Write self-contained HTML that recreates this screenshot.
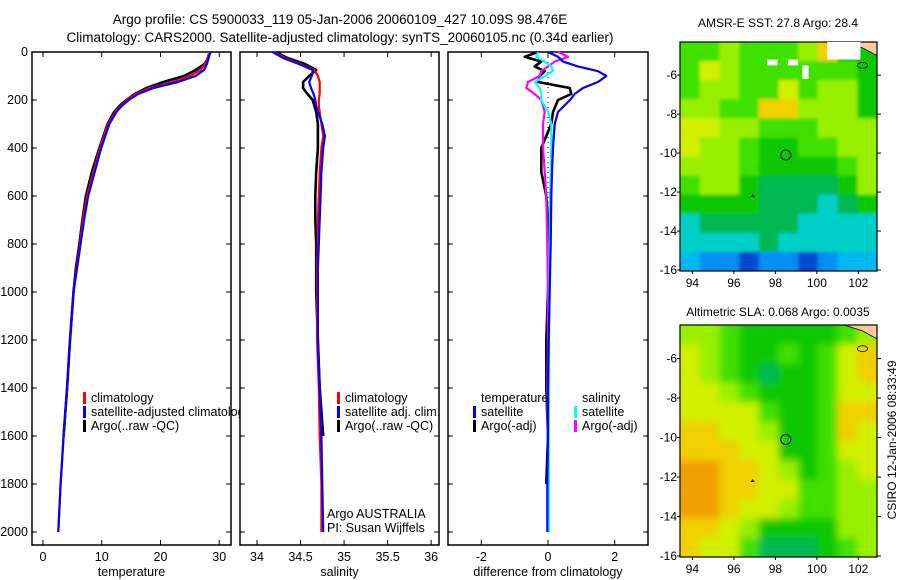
<!DOCTYPE html>
<html><head><meta charset="utf-8">
<style>
body{margin:0;background:#fff;}
svg{display:block;font-family:"Liberation Sans",sans-serif;}
</style></head>
<body>
<svg id="chart" width="900" height="580" viewBox="0 0 900 580">
<defs>
<filter id="blur" x="0" y="0" width="1" height="1"><feGaussianBlur stdDeviation="4"/></filter>
<filter id="blur1" x="0" y="0" width="1" height="1"><feGaussianBlur stdDeviation="1.5"/></filter>
<clipPath id="clip-map2"><rect x="680" y="325" width="197" height="232"/></clipPath>
<clipPath id="clip-map1"><rect x="680" y="42" width="197" height="229"/></clipPath>
<clipPath id="clip-p1"><rect x="32" y="52" width="208" height="493"/></clipPath>
</defs>
<text x="340" y="24" font-size="13.5" text-anchor="middle">Argo profile: CS 5900033_119 05-Jan-2006 20060109_427 10.09S 98.476E</text>
<text x="340" y="42" font-size="13.5" text-anchor="middle">Climatology: CARS2000. Satellite-adjusted climatology: synTS_20060105.nc (0.34d earlier)</text>
<text x="778" y="27" font-size="12" text-anchor="middle">AMSR-E SST: 27.8 Argo: 28.4</text>
<text x="778" y="316" font-size="12" text-anchor="middle">Altimetric SLA: 0.068 Argo: 0.0035</text>
<text x="0" y="0" font-size="12" text-anchor="middle" transform="translate(896,440) rotate(-90)">CSIRO 12-Jan-2006 08:33:49</text>
<g id="plots"></g>
</svg>
<script>
// ---- profile data ----
const depths = [0,25,50,75,100,125,150,175,200,225,250,300,350,400,500,600,700,800,900,1000,1200,1400,1600,1800,2000];
const tempClim = [28.3,28.0,27.6,26.8,25.0,22.0,18.2,15.8,14.3,13.2,12.3,11.1,10.4,9.7,8.6,7.5,6.8,6.3,5.7,5.2,4.6,4.1,3.5,3.0,2.6];
const tempSat = [28.5,28.2,27.9,27.4,26.0,23.0,18.8,16.2,14.6,13.4,12.5,11.3,10.6,9.9,8.8,7.7,7.0,6.4,5.8,5.2,4.6,4.1,3.5,3.0,2.6];
const tempArgo = [28.5,28.1,27.5,26.0,24.0,20.5,17.6,15.6,14.2,13.0,12.1,11.0,10.3,9.6,8.3,7.3,6.7,6.2,5.6,5.2,4.6,4.1,3.5];
const salClim = [34.20,34.32,34.50,34.66,34.70,34.72,34.72,34.72,34.71,34.71,34.72,34.74,34.76,34.74,34.72,34.71,34.70,34.70,34.69,34.69,34.69,34.71,34.72,34.74,34.74];
const salSat = [34.18,34.30,34.48,34.64,34.63,34.60,34.62,34.65,34.67,34.68,34.70,34.75,34.78,34.76,34.74,34.73,34.72,34.71,34.70,34.70,34.70,34.72,34.74,34.75,34.76];
const salArgo = [34.22,34.35,34.55,34.68,34.60,34.53,34.53,34.58,34.64,34.66,34.68,34.70,34.70,34.70,34.68,34.67,34.67,34.68,34.68,34.68,34.70,34.72,34.76];
const diffDepths = [0,20,40,60,80,100,125,150,175,200,250,300,400,500,600,800,1000,1200,1400,1600,1800,2000];
const dTempSat = [0.0,0.3,0.45,0.9,1.5,1.75,1.5,1.05,0.8,0.66,0.3,0.2,0.15,0.12,0.1,0.08,0.05,0.02,0.0,0.0,-0.02,-0.02];
const dTempArgo = [-0.3,-0.7,-0.2,-0.4,-0.1,-0.25,-0.3,0.65,0.7,0.3,0.15,0.1,-0.2,-0.2,-0.05,0.05,0.0,-0.05,-0.05,0.0,-0.05];
const dSalSat = [-0.3,-0.35,-0.1,0.1,0.15,-0.1,-0.4,-0.25,-0.2,-0.2,0.0,0.1,0.1,0.08,0.06,0.05,0.04,0.03,0.03,0.02,0.02,0.02];
const dSalArgo = [0.3,0.6,0.2,0.0,-0.2,-0.25,-0.6,-0.65,-0.4,-0.2,-0.1,-0.15,-0.15,-0.1,-0.05,-0.02,0.0,0.0,-0.02,-0.01,0.0];
const depthTicks = [0,200,400,600,800,1000,1200,1400,1600,1800,2000];
const tempTicks = [0,10,20,30];
const salTicks = [34,34.5,35,35.5,36];
const diffTicks = [-2,0,2];
// ---- map data (rows top->bottom, cols west->east), colour levels 0..10 ----
const sstGrid = [
[6,6,7,6,6,6,7,9,5,5],[6,8,7,6,6,6,6,6,6,5],[6,7,7,6,6,8,6,7,7,5],[7,7,6,6,9,9,7,7,7,5],
[8,8,7,7,6,6,6,7,7,7],[8,7,7,6,5,5,6,6,7,7],[7,7,7,6,5,5,5,5,6,7],[6,7,7,5,4,4,4,4,5,7],
[5,5,5,5,4,4,4,3,4,5],[3,4,4,4,4,4,3,3,3,3],[3,3,3,3,4,3,3,3,3,3],[2,1,1,0,1,1,0,1,2,2]];
const slaGrid = [
[7,7,6,5,5,5,5,5,6,7],[8,7,6,5,5,6,5,6,8,9],[8,7,6,5,4,5,5,6,8,9],[8,8,7,6,5,5,5,6,8,8],
[8,8,8,8,6,5,5,6,9,9],[9,9,8,8,7,5,5,6,9,8],[9,9,9,8,8,5,5,6,8,8],[10,10,9,9,8,7,5,6,7,8],
[10,10,9,9,8,8,6,6,7,7],[10,10,9,8,8,7,6,6,7,7],[9,9,8,7,5,5,5,5,7,7],[9,8,8,6,4,4,4,5,6,7]];
const latTicks = [-6,-8,-10,-12,-14,-16];
const lonTicks = [94,96,98,100,102];
const floatPos = [98.5,-10.1];

const NS="http://www.w3.org/2000/svg";
const root=document.getElementById('plots');
function mk(tag,attrs,parent){const e=document.createElementNS(NS,tag);for(const k in attrs)e.setAttribute(k,attrs[k]);(parent||root).appendChild(e);return e;}
const palette=['#0048d0','#0090f0','#00b8f0','#00d0c8','#00b850','#10c800','#40e000','#98f000','#d0f000','#f0d000','#f0a000'];

const Y0=52, YS=0.24, PB=545;
function yD(d){return Y0+d*YS;}

function panel(name,x0,x1,vmin,vmax,ticks,label,showDepth){
  const g=mk('g',{});
  
  
  const xs=v=>x0+(v-vmin)/(vmax-vmin)*(x1-x0);
  const fr=mk('rect',{x:x0,y:Y0,width:x1-x0,height:PB-Y0,fill:'none',stroke:'#000','stroke-width':1.5},g);
  
  
  ticks.forEach(t=>{
    const x=xs(t);
    mk('line',{x1:x,x2:x,y1:PB,y2:PB-5,stroke:'#000'},g);
    mk('line',{x1:x,x2:x,y1:Y0,y2:Y0+5,stroke:'#000'},g);
    const tx=mk('text',{x:x,y:PB+16,'font-size':12.5,'text-anchor':'middle'},g);
    tx.textContent=t;
    
    
  });
  depthTicks.forEach(d=>{
    const y=yD(d);
    mk('line',{x1:x0,x2:x0+5,y1:y,y2:y,stroke:'#000'},g);
    mk('line',{x1:x1,x2:x1-5,y1:y,y2:y,stroke:'#000'},g);
    if(showDepth){
      const tx=mk('text',{x:x0-4,y:y+4,'font-size':12.5,'text-anchor':'end'},g);
      tx.textContent=d;
      
      
    }
  });
  const lb=mk('text',{x:(x0+x1)/2,y:PB+31,'font-size':12.5,'text-anchor':'middle'},g);
  lb.textContent=label;
  
  
  return {g,xs};
}
function line(g,xs,vals,ds,color,name,w){
  const pts=vals.map((v,i)=>xs(v).toFixed(1)+','+yD(ds[i]).toFixed(1)).join(' ');
  const p=mk('polyline',{points:pts,fill:'none',stroke:color,'stroke-width':w||2.2,'stroke-linejoin':'round'},g);
  
  
}
function legend(g,x,y,items){
  items.forEach((it,i)=>{
    const yy=y+i*14;
    if(it[1]) mk('rect',{x:x,y:yy-10,width:3,height:12,fill:it[1]},g);
    const t=mk('text',{x:x+(it[1]?8:0),y:yy,'font-size':12.5},g);
    t.textContent=it[0];
    
    
  });
}

// temperature
const p1=panel('temperature-panel',32,231,-1.87,32.0,tempTicks,'temperature',true);
line(p1.g,p1.xs,tempArgo,depths,'#000','temp-argo-line',2.6);
line(p1.g,p1.xs,tempClim,depths,'#f00','temp-climatology-line');
line(p1.g,p1.xs,tempSat,depths,'#00f','temp-satellite-line');
const lg1=mk('g',{'clip-path':'url(#clip-p1)'},p1.g);
legend(lg1,83,402,[['climatology','#f00'],['satellite-adjusted climatology','#00f'],['Argo(..raw -QC)','#000']]);

// salinity
const p2=panel('salinity-panel',240,439,33.805,36.09,salTicks,'salinity',false);
line(p2.g,p2.xs,salArgo,depths,'#000','sal-argo-line',2.6);
line(p2.g,p2.xs,salClim,depths,'#f00','sal-climatology-line');
line(p2.g,p2.xs,salSat,depths,'#00f','sal-satellite-line');
legend(p2.g,337,402,[['climatology','#f00'],['satellite adj. clim.','#00f'],['Argo(..raw -QC)','#000']]);
const a1=mk('text',{x:327,y:518,'font-size':12.5},p2.g);a1.textContent='Argo AUSTRALIA';


const a2=mk('text',{x:327,y:532,'font-size':12.5},p2.g);a2.textContent='PI: Susan Wijffels';



// difference
const p3=panel('difference-panel',448,648,-3,3,diffTicks,'difference from climatology',false);
mk('line',{x1:p3.xs(0),x2:p3.xs(0),y1:Y0,y2:yD(2000),stroke:'#000','stroke-dasharray':'1,4'},p3.g);
line(p3.g,p3.xs,dTempArgo,diffDepths,'#000','diff-temp-argo-line',2.6);
line(p3.g,p3.xs,dSalArgo,diffDepths,'#f0f','diff-sal-argo-line');
line(p3.g,p3.xs,dSalSat,diffDepths,'#0ff','diff-sal-satellite-line');
line(p3.g,p3.xs,dTempSat,diffDepths,'#00f','diff-temp-satellite-line');
legend(p3.g,481,402,[['temperature',null]]);
legend(p3.g,473,416,[['satellite','#00f'],['Argo(-adj)','#000']]);
legend(p3.g,582,402,[['salinity',null]]);
legend(p3.g,574,416,[['satellite','#0ff'],['Argo(-adj)','#f0f']]);

// maps
function mapPanel(name,grid,top,bottom,filterId,clipId){
  const L=680,R=877,lon0=93.4,lon1=102.9,lat0=-4.3,lat1=-16.05;
  const g=mk('g',{});
  
  
  const xs=lon=>L+(lon-lon0)/(lon1-lon0)*(R-L);
  const ys=lat=>top+(lat-lat0)/(lat1-lat0)*(bottom-top);
  const wrap=mk('g',{'clip-path':'url(#'+clipId+')'},g);
  const cells=mk('g',{filter:'url(#'+filterId+')'},wrap);
  const nr=grid.length,nc=grid[0].length,cw=(R-L)/nc,ch=(bottom-top)/nr;
  const pad=12;
  grid.forEach((row,r)=>row.forEach((v,c)=>{
    const x=L+c*cw-(c==0?pad:0), y=top+r*ch-(r==0?pad:0);
    const w=cw+0.6+(c==0||c==nc-1?pad:0), h=ch+0.6+(r==0||r==nr-1?pad:0);
    const cell=mk('rect',{x:x,y:y,width:w,height:h,fill:palette[v]},cells);
    
    
  }));
  const land=mk('polygon',{points:`${xs(101.3)},${top} ${xs(102.9)},${top} ${xs(102.9)},${ys(-5.0)} ${xs(102.2)},${ys(-4.6)}`,fill:'#ffc8a0',stroke:'#000','stroke-width':0.8},g);
  
  
  mk('ellipse',{cx:xs(102.2),cy:ys(-5.5),rx:5,ry:3,fill:'none',stroke:'#000','stroke-width':0.8},g);
  const c=mk('circle',{cx:xs(floatPos[0]),cy:ys(floatPos[1]),r:5,fill:'none',stroke:'#000','stroke-width':1},g);
  
  
  mk('polygon',{points:`${xs(96.9)},${ys(-12.1)} ${xs(96.8)},${ys(-12.25)} ${xs(97.0)},${ys(-12.25)}`,fill:'#000'},g);
  mk('rect',{x:L,y:top,width:R-L,height:bottom-top,fill:'none',stroke:'#000','stroke-width':1.2},g);
  latTicks.forEach(t=>{
    const y=ys(t);
    mk('line',{x1:R,x2:R+4,y1:y,y2:y,stroke:'#000'},g);
    mk('line',{x1:L,x2:L-3,y1:y,y2:y,stroke:'#000'},g);
    const tx=mk('text',{x:L-3,y:y+4,'font-size':12,'text-anchor':'end'},g);
    tx.textContent=t;
    
    
  });
  lonTicks.forEach(t=>{
    const x=xs(t);
    mk('line',{x1:x,x2:x,y1:bottom,y2:bottom+3,stroke:'#000'},g);
    const tx=mk('text',{x:x,y:bottom+16,'font-size':12,'text-anchor':'middle'},g);
    tx.textContent=t;
    
    
  });
  return {g,xs,ys};
}
const m1=mapPanel('sst-map',sstGrid,42,271,'blur1','clip-map1');
[[100.5,-4.3,1.6,0.9],[97.6,-5.2,0.5,0.3],[98.6,-5.2,0.5,0.3],[99.3,-5.5,0.3,0.7]].forEach(p=>{
  const w=mk('rect',{x:m1.xs(p[0]),y:m1.ys(p[1]),width:m1.xs(p[0]+p[2])-m1.xs(p[0]),height:m1.ys(p[1]-p[3])-m1.ys(p[1]),fill:'#fff'},m1.g);
  
  
});
mapPanel('sla-map',slaGrid,325,557,'blur','clip-map2');
</script>
</body></html>
